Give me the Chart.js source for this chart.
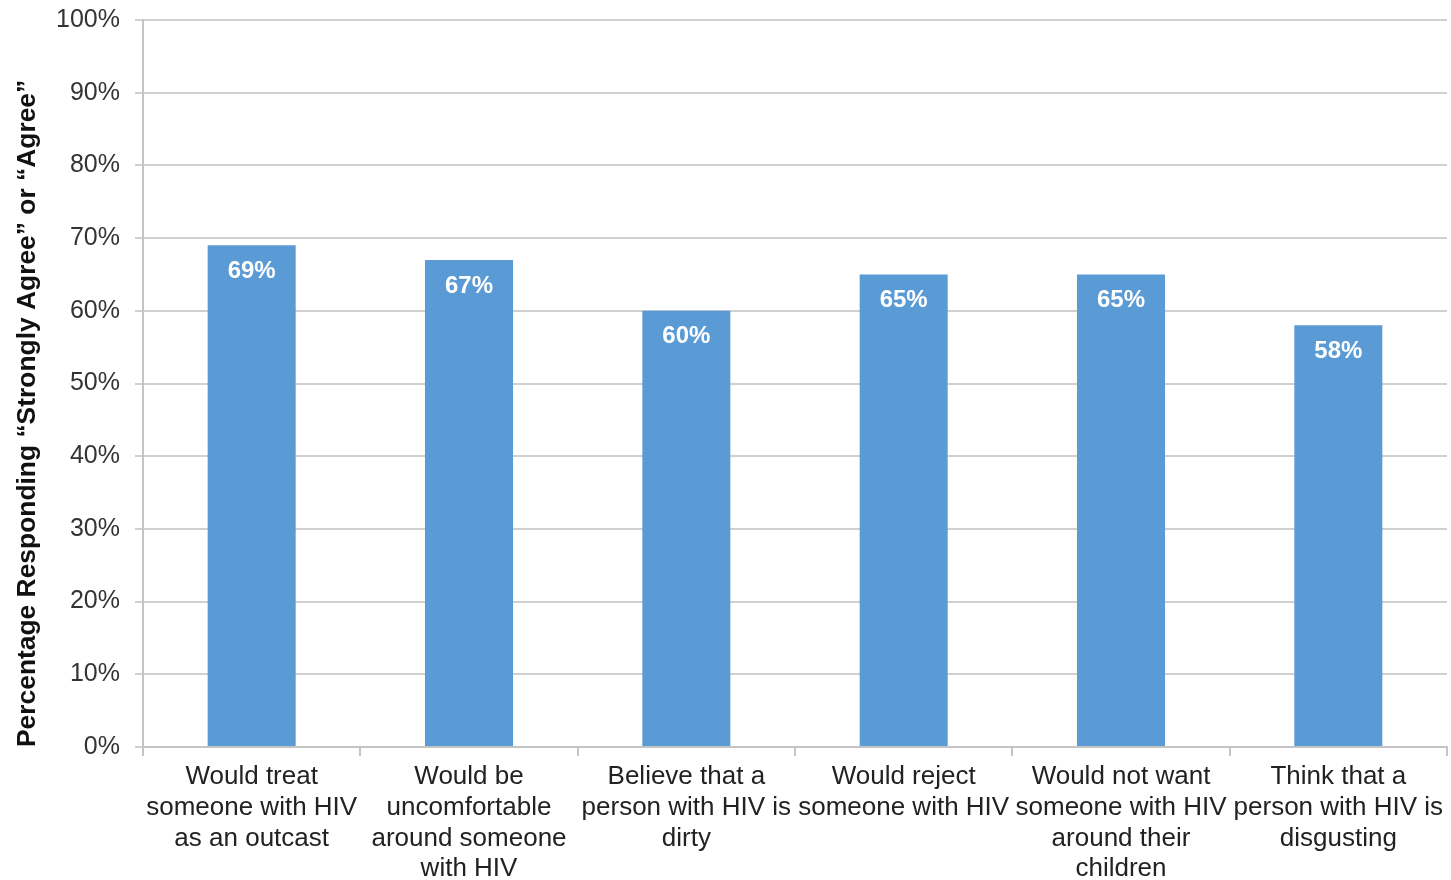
<!DOCTYPE html>
<html>
<head>
<meta charset="utf-8">
<script src="https://cdn.jsdelivr.net/npm/chart.js@4.4.0/dist/chart.umd.min.js"></script>
<style>
  html, body { margin: 0; padding: 0; background: #fff; }
  #wrap { width: 1451px; height: 880px; }
</style>
</head>
<body>
<div id="wrap"><canvas id="stigmaChart" width="1451" height="880"></canvas></div>
<script>
const categories = [
    ["Would treat", "someone with HIV", "as an outcast"],
    ["Would be", "uncomfortable", "around someone", "with HIV"],
    ["Believe that a", "person with HIV is", "dirty"],
    ["Would reject", "someone with HIV"],
    ["Would not want", "someone with HIV", "around their", "children"],
    ["Think that a", "person with HIV is", "disgusting"]
];
const agreePct = [69, 67, 60, 65, 65, 58];
const yTicks = [0, 10, 20, 30, 40, 50, 60, 70, 80, 90, 100];

const FONT = "'Liberation Sans', Arial, sans-serif";

// white value labels inside the top of each bar
const barLabels = {
    id: "barLabels",
    afterDatasetsDraw(chart) {
        const ctx = chart.ctx;
        const meta = chart.getDatasetMeta(0);
        ctx.save();
        ctx.fillStyle = "#ffffff";
        ctx.font = "bold 24px " + FONT;
        ctx.textAlign = "center";
        ctx.textBaseline = "middle";
        meta.data.forEach((bar, i) => {
            ctx.fillText(agreePct[i] + "%", bar.x, bar.y + 26);
        });
        ctx.restore();
    }
};

new Chart(document.getElementById("stigmaChart"), {
    type: "bar",
    data: {
        labels: categories,
        datasets: [{
            data: agreePct,
            backgroundColor: "#5b9bd5",
            borderWidth: 0,
            barPercentage: 0.405,
            categoryPercentage: 1.0
        }]
    },
    options: {
        responsive: false,
        animation: false,
        devicePixelRatio: 1,
        layout: { padding: { top: 20, right: 4, bottom: 0, left: 0 } },
        plugins: {
            legend: { display: false },
            tooltip: { enabled: false }
        },
        scales: {
            x: {
                offset: true,
                grid: {
                    offset: true,
                    drawOnChartArea: false,
                    drawTicks: true,
                    tickLength: 9,
                    color: "#c4c4c4",
                    lineWidth: 2
                },
                border: { color: "#c4c4c4", width: 2 },
                ticks: {
                    color: "#222222",
                    font: { family: FONT, size: 26, lineHeight: 1.19 },
                    maxRotation: 0,
                    autoSkip: false,
                    padding: 5
                },
                afterFit(axis) { axis.height = 133; }
            },
            y: {
                min: 0,
                max: 100,
                afterBuildTicks(axis) { axis.ticks = yTicks.map(v => ({ value: v })); },
                grid: {
                    color: "#d0d0d0",
                    lineWidth: 2,
                    tickLength: 8
                },
                border: { color: "#c4c4c4", width: 2 },
                ticks: {
                    color: "#333333",
                    font: { family: FONT, size: 25 },
                    padding: 15,
                    callback: v => v + "%"
                },
                title: {
                    display: true,
                    align: "start",
                    text: "Percentage Responding \u201cStrongly Agree\u201d or \u201cAgree\u201d",
                    color: "#111111",
                    font: { family: FONT, size: 26.4, weight: "bold" },
                    padding: { top: 12, bottom: 0 }
                },
                afterFit(axis) {
                    axis.width = 143;
                    axis.paddingTop = 0;
                    axis.paddingBottom = 0;
                }
            }
        }
    },
    plugins: [barLabels]
});
</script>
</body>
</html>
